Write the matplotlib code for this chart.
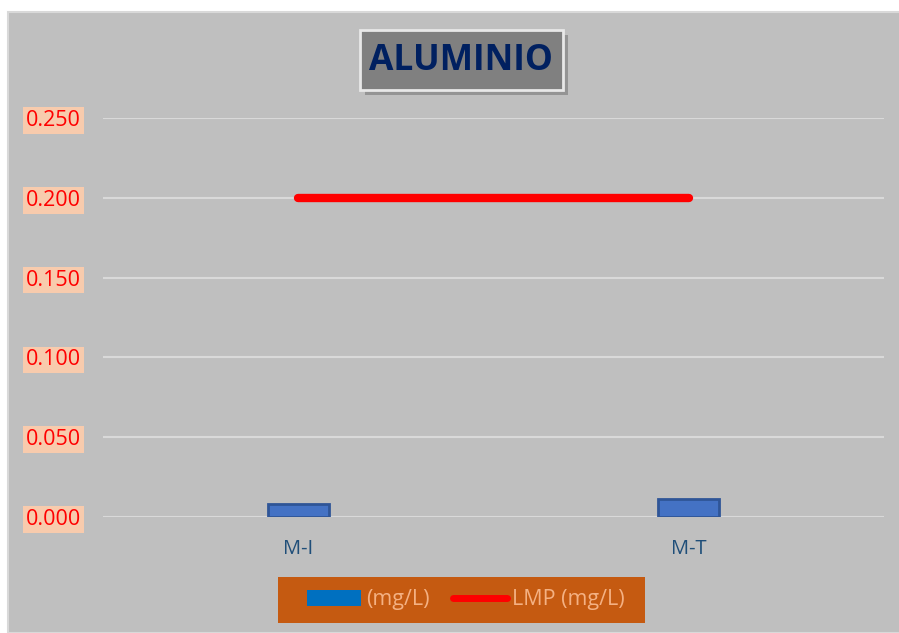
import matplotlib.pyplot as plt
from matplotlib.patches import Rectangle
from matplotlib.lines import Line2D

categories = ["M-I", "M-T"]
concentracion = [0.008, 0.011]   # (mg/L)
lmp = [0.200, 0.200]             # LMP (mg/L)
yticks = [0.000, 0.050, 0.100, 0.150, 0.200, 0.250]

plt.rcParams['font.family'] = ['Open Sans', 'DejaVu Sans']

fig = plt.figure(figsize=(8.99, 6.33), dpi=100, facecolor='white')

# chart area background
fig.patches.append(Rectangle((8 / 899, 0), 1, 1 - 12 / 633, transform=fig.transFigure,
                             facecolor='#bfbfbf', edgecolor='#d9d9d9', linewidth=1.5, zorder=-5))

ax = fig.add_axes([103 / 899, 1 - 517 / 633, 781 / 899, 399 / 633])
ax.set_facecolor('none')
ax.set_zorder(1)

x = list(range(len(categories)))
ax.bar(x, concentracion, width=0.155, color='#4472c4', edgecolor='#2f5597', linewidth=2, zorder=3)
ax.plot(x, lmp, color='#ff0000', linewidth=6, solid_capstyle='round', zorder=4)

ax.set_xlim(-0.5, 1.5)
ax.set_ylim(0, 0.25)
ax.set_yticks(yticks)
ax.set_yticklabels([f"{v:.3f}" for v in yticks])
ax.yaxis.grid(True, color='#d9d9d9', linewidth=1.5, zorder=0)
ax.set_axisbelow(True)
for s in ax.spines.values():
    s.set_visible(False)
ax.tick_params(axis='y', length=0, pad=16, labelsize=15.5, labelcolor='#ff0000')
for t in ax.get_yticklabels():
    t.set_bbox(dict(facecolor='#f8cbad', edgecolor='none', pad=2))
ax.set_xticks(x)
ax.set_xticklabels(categories)
ax.tick_params(axis='x', length=0, pad=16, labelsize=14.5, labelcolor='#1f4e79')

# title box with shadow
fig.patches.append(Rectangle((365 / 899, 1 - 95 / 633), 203 / 899, 60 / 633, transform=fig.transFigure,
                             facecolor='#6a6a6a', edgecolor='none', alpha=0.5, zorder=2))
fig.patches.append(Rectangle((360 / 899, 1 - 90 / 633), 203 / 899, 60 / 633, transform=fig.transFigure,
                             facecolor='#808080', edgecolor='#e8e8e8', linewidth=2, zorder=3))
fig.text(461 / 899, 1 - 61 / 633, "ALUMINIO", ha='center', va='center', fontsize=25.5,
         fontweight='bold', color='#002060', zorder=4)

# legend
fig.patches.append(Rectangle((278 / 899, 1 - 623 / 633), 367 / 899, 46 / 633, transform=fig.transFigure,
                             facecolor='#c55a11', edgecolor='none', zorder=2))
handles = [Rectangle((0, 0), 1, 1, facecolor='#0070c0', edgecolor='none'),
           Line2D([], [], color='#ff0000', linewidth=5, solid_capstyle='round')]
leg = fig.legend(handles, ["(mg/L)", "LMP (mg/L)"], loc='center', bbox_to_anchor=(466 / 899, 1 - 600 / 633),
                 ncol=2, frameon=False, fontsize=15.5, handlelength=2.5, handletextpad=0.25,
                 columnspacing=1.1, labelcolor='#f4b183')
leg.set_zorder(5)

fig.savefig("out.png", dpi=100, facecolor='white')
